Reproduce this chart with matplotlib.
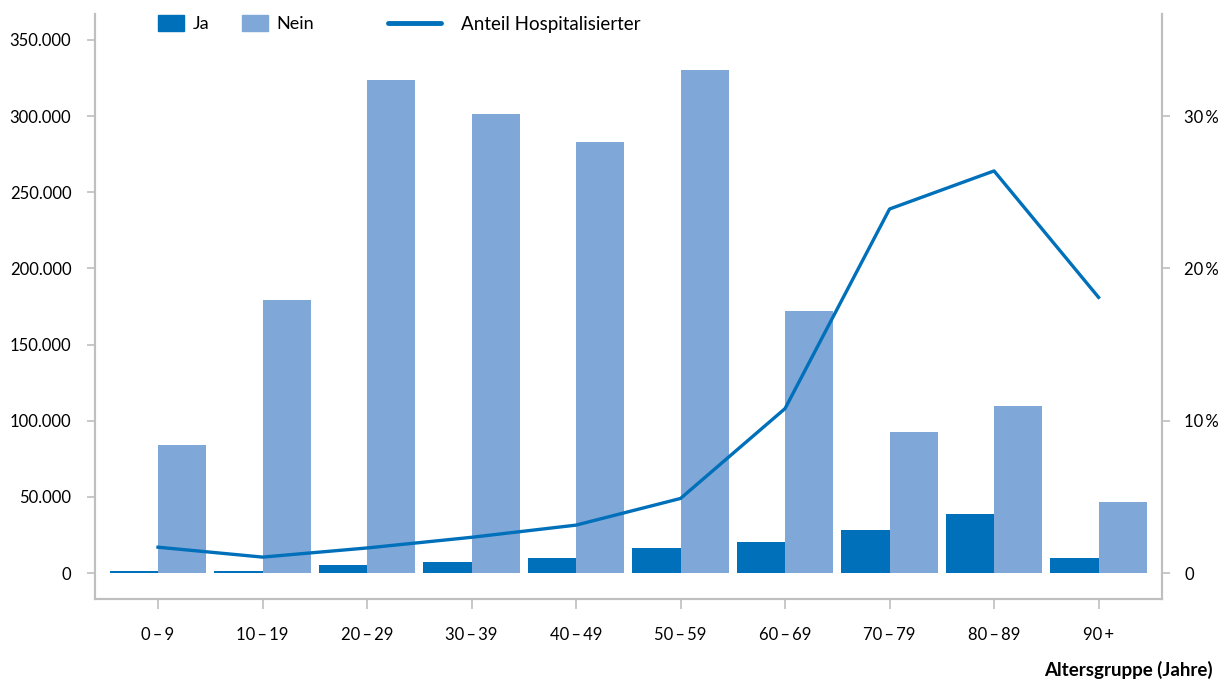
import matplotlib.pyplot as plt
import numpy as np
from matplotlib.patches import Patch
from matplotlib.lines import Line2D
from matplotlib.ticker import FuncFormatter

plt.rcParams['font.family'] = ['Lato', 'DejaVu Sans']

# Daten
gruppen = ["0\u2009–\u20099", "10\u2009–\u200919", "20\u2009–\u200929", "30\u2009–\u200939",
           "40\u2009–\u200949", "50\u2009–\u200959", "60\u2009–\u200969", "70\u2009–\u200979",
           "80\u2009–\u200989", "90\u2009+"]
ja = [1700, 1700, 5600, 7000, 9600, 16700, 20600, 28500, 38900, 10200]
nein = [84100, 179400, 323900, 301600, 283200, 330500, 172100, 92600, 109700, 46600]
anteil = [1.7, 1.05, 1.65, 2.35, 3.15, 4.9, 10.8, 23.9, 26.4, 18.1]

c_ja = "#0070BA"
c_nein = "#7FA7D8"
c_axis = "#BFBFBF"

fig = plt.figure(figsize=(12.27, 6.82), dpi=100)
ax = fig.add_axes([95 / 1227, 83 / 682, (1162 - 95) / 1227, (599 - 14) / 682])

x = np.arange(len(gruppen))
w = 0.46
ax.bar(x - w / 2, ja, width=w, color=c_ja, zorder=2)
ax.bar(x + w / 2, nein, width=w, color=c_nein, zorder=2)

ax.set_xlim(-0.603, 9.607)
ax.set_ylim(-17000, 367000)
ax.set_yticks(range(0, 350001, 50000))
ax.yaxis.set_major_formatter(FuncFormatter(lambda v, p: f"{int(v):,}".replace(",", ".")))
ax.set_xticks(x)
ax.set_xticklabels(gruppen)

ax2 = ax.twinx()
ax2.set_ylim(-1.7, 36.7)
ax2.plot(x, anteil, color=c_ja, lw=2.4, zorder=3)
ax2.set_yticks([0, 10, 20, 30])
ax2.set_yticklabels(["0", "10\u2009%", "20\u2009%", "30\u2009%"])

for a in (ax, ax2):
    a.spines["top"].set_visible(False)
    for s in ("left", "right", "bottom"):
        a.spines[s].set_color(c_axis)
        a.spines[s].set_linewidth(1.5)
ax.tick_params(axis="y", length=6, width=1.2, color=c_axis, pad=11, labelsize=12)
ax.tick_params(axis="x", length=7.5, width=1.2, color=c_axis, pad=13, labelsize=12)
ax2.tick_params(axis="y", length=6, width=1.2, color=c_axis, pad=10, labelsize=12)

# Legende
ax.legend(handles=[Patch(color=c_ja, label="Ja"), Patch(color=c_nein, label="Nein")],
          loc="upper left", bbox_to_anchor=(0.044, 1.026), ncol=2, frameon=False,
          fontsize=13, handlelength=1.45, handleheight=0.95, columnspacing=1.8,
          handletextpad=0.45)
ax2.legend(handles=[Line2D([], [], color=c_ja, lw=3.5, solid_capstyle="round",
                           label="Anteil Hospitalisierter")],
           loc="upper left", bbox_to_anchor=(0.259, 1.026), frameon=False,
           fontsize=13.5, handlelength=2.8, handletextpad=1.1)

fig.text(1213 / 1227, 12 / 682, "Altersgruppe (Jahre)", ha="right", va="center",
         fontsize=13.5, fontweight="bold")

plt.savefig("out.png", dpi=100)
